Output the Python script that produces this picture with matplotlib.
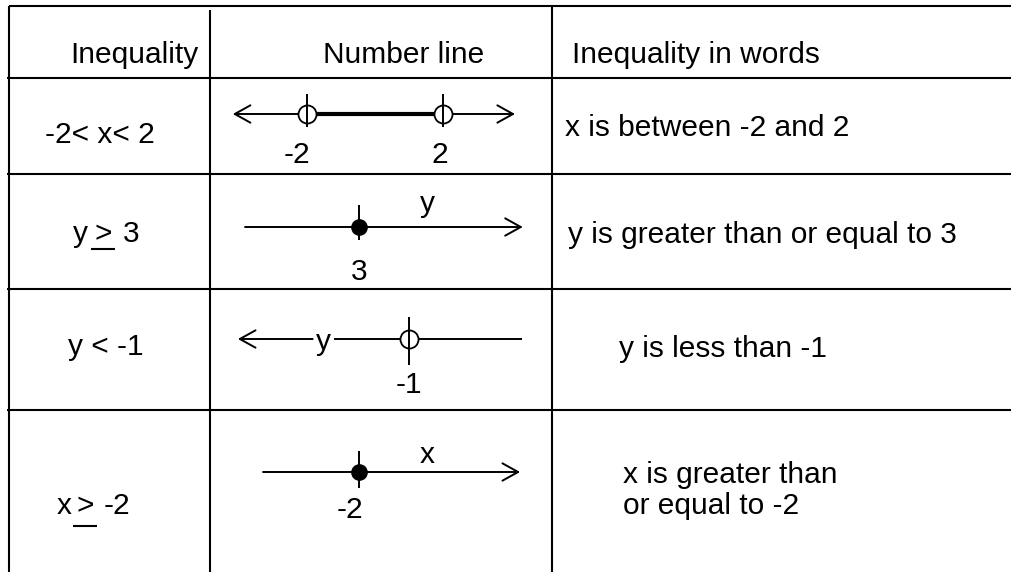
import matplotlib

matplotlib.use("Agg")
import matplotlib.pyplot as plt

# table content
headers = ["Inequality", "Number line", "Inequality in words"]
inequalities = ["-2< x< 2", "y > 3", "y < -1", "x > -2"]
underlined = [False, True, False, True]
words = [
    "x is between -2 and 2",
    "y is greater than or equal to 3",
    "y is less than -1",
    "x is greater than\nor equal to -2",
]

# number lines
points = [[-2, 2], [3], [-1], [-2]]
point_labels = [["-2", "2"], ["3"], ["-1"], ["-2"]]
closed = [False, True, False, True]
shaded = [(-2, 2), None, None, None]
arrows = ["<->", "->", "<-", "->"]
var_names = [None, "y", "y", "x"]
var_values = [None, 5, -3.5, 0]
line_ends = [(-4.18, 4.12), (-0.35, 7.82), (-6.03, 2.29), (-4.82, 2.74)]
view_left = [-4.85, -1.38, -6.85, -6.38]

# layout (pixels)
W, H = 1011, 572
row_y = [6, 78, 174, 289, 410]
col_x = [9, 210, 552]
line_y = [114, 227, 339, 472]
ineq_x = [45, 73, 68, 57]
ineq_base = [143, 242, 355, 514]
piece_dx = [None, (21, 50), None, (19, 47)]
underline_dy = [0, 7, 0, 12]
words_x = [565, 568, 619, 623]
words_base = [136, 243, 357, 483]
tick_span = [(-13, 20), (-13, 22), (-26, 22), (-16, 21)]
label_drop = [41, 45, 46, 38]
label_dx = [[-10, -3], [0], [0], [-9]]
var_rise = [0, 23, -3, 17]
px_per_unit = 34
fs = 21.5

plt.rcParams["font.family"] = ["Liberation Sans", "DejaVu Sans"]

fig = plt.figure(figsize=(W / 100, H / 100), dpi=100)
ax = fig.add_axes([0, 0, 1, 1])
ax.set_xlim(0, W)
ax.set_ylim(H, 0)
ax.axis("off")

lw = 1.5
ax.hlines(row_y[0], col_x[0], W, color="black", lw=lw)
ax.hlines(row_y[1:], col_x[0] - 2, W, color="black", lw=lw)
ax.vlines(col_x[0], row_y[0], H, color="black", lw=lw)
ax.vlines(col_x[1], row_y[0] + 4, H, color="black", lw=lw)
ax.vlines(col_x[2], row_y[0], H, color="black", lw=lw)

ax.text(70, 63, headers[0], fontsize=fs, va="baseline")
ax.text(323, 63, headers[1], fontsize=fs, va="baseline")
ax.text(572, 63, headers[2], fontsize=fs, va="baseline")

for i, txt in enumerate(inequalities):
    if underlined[i]:
        left, sign, right = txt.split(" ")
        x0 = ineq_x[i]
        d1, d2 = piece_dx[i]
        ax.text(x0, ineq_base[i], left, fontsize=fs, va="baseline")
        ax.text(x0 + d1, ineq_base[i], sign, fontsize=fs, va="baseline")
        ax.text(x0 + d2, ineq_base[i], right, fontsize=fs, va="baseline")
        ax.hlines(ineq_base[i] + underline_dy[i], x0 + d1 - 3, x0 + d1 + 21,
                  color="black", lw=1.5)
    else:
        ax.text(ineq_x[i], ineq_base[i], txt, fontsize=fs, va="baseline")

for i, txt in enumerate(words):
    for k, part in enumerate(txt.split("\n")):
        ax.text(words_x[i], words_base[i] + 31 * k, part, fontsize=fs, va="baseline")

cell_w = col_x[2] - col_x[1]
head = ",head_length=0.45,head_width=0.25"
for i in range(4):
    nl = fig.add_axes([col_x[1] / W, 1 - (line_y[i] + 45) / H, cell_w / W, 90 / H])
    nl.set_xlim(view_left[i], view_left[i] + cell_w / px_per_unit)
    nl.set_ylim(-45, 45)
    nl.axis("off")
    nl.patch.set_alpha(0)

    a, b = line_ends[i]
    if var_names[i] is not None and var_rise[i] <= 0:
        # the variable name sits in a gap of the line
        gap = 0.33
        nl.plot([var_values[i] + gap, b], [0, 0], color="black", lw=1.4)
        nl.annotate("", xy=(a, 0), xytext=(var_values[i] - gap, 0),
                    arrowprops=dict(arrowstyle="->" + head, color="black", lw=1.4,
                                    shrinkA=0, shrinkB=0, mutation_scale=25))
    else:
        nl.annotate("", xy=(b, 0), xytext=(a, 0),
                    arrowprops=dict(arrowstyle=arrows[i] + head, color="black", lw=1.4,
                                    shrinkA=0, shrinkB=0, mutation_scale=25))

    if shaded[i] is not None:
        nl.plot(shaded[i], [0, 0], color="black", lw=3.0, solid_capstyle="butt")

    lo, hi = tick_span[i]
    for p, lab, dx in zip(points[i], point_labels[i], label_dx[i]):
        if closed[i]:
            nl.plot([p], [0], "o", ms=11, color="black", zorder=4)
        else:
            nl.plot([p], [0], "o", ms=13, mfc="white", mec="black", mew=1.3, zorder=4)
        nl.vlines(p, lo, hi, color="black", lw=1.4, zorder=5)
        nl.annotate(lab, (p, 0), xytext=(dx, -label_drop[i]), textcoords="offset pixels",
                    ha="center", va="center", fontsize=fs)

    if var_names[i] is not None:
        nl.annotate(var_names[i], (var_values[i], 0), xytext=(0, var_rise[i]),
                    textcoords="offset pixels", ha="center", va="center", fontsize=fs)

fig.savefig("out.png", dpi=100)
